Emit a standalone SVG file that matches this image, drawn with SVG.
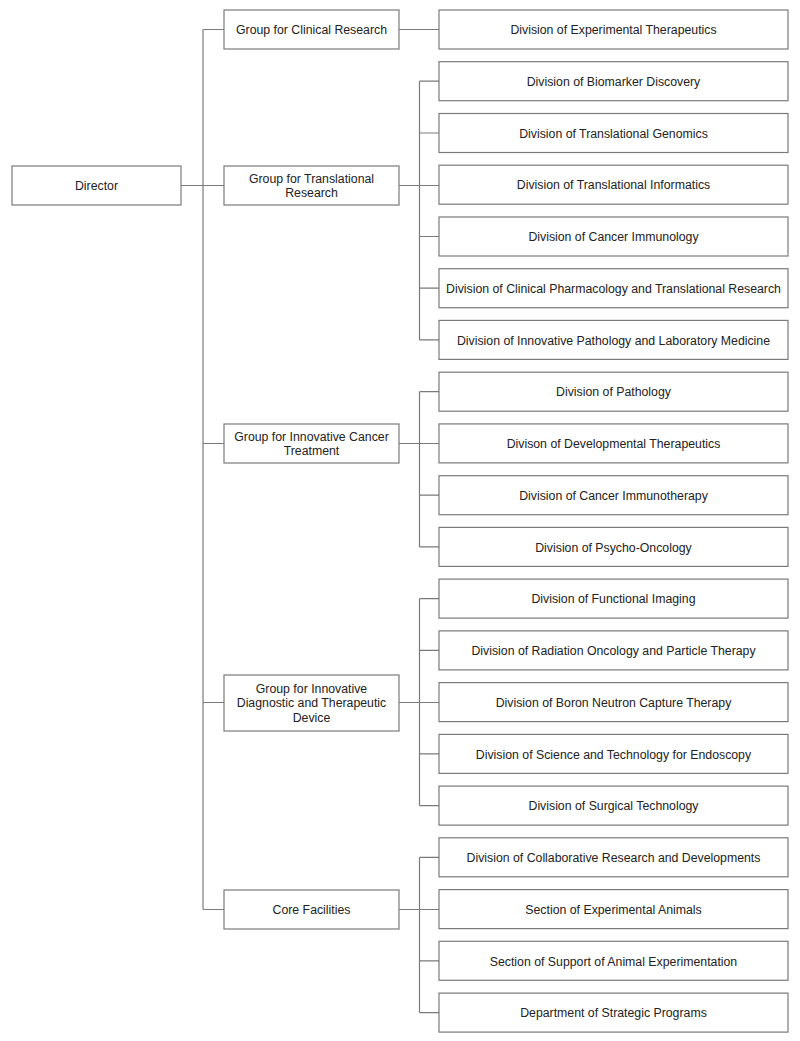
<svg xmlns="http://www.w3.org/2000/svg" width="800" height="1041" viewBox="0 0 800 1041">
<style>
.box{fill:#fff;stroke:#7a7a7a;stroke-width:1.2}
.lbl{font-family:"Liberation Sans",Arial,sans-serif;font-size:12.3px;fill:#222;text-anchor:middle;dominant-baseline:central;transform:translateY(0.8px)}
.con{fill:none;stroke:#7a7a7a;stroke-width:1.2}
</style>
<rect width="800" height="1041" fill="#fff"/>
<g id="connectors" class="con">
<path d="M181 185.5H224M203 29.5V909.5M203 29.5H224M203 443.5H224M203 702.5H224M203 909.5H224"/>
<path d="M399 29.5H439"/>
<path d="M399 185.5H439M419.5 81.2V339.9M419.5 81.2H439M419.5 133H439M419.5 236.5H439M419.5 288.2H439M419.5 339.9H439"/>
<path d="M399 443.5H439M419.5 391.7V546.9M419.5 391.7H439M419.5 495.2H439M419.5 546.9H439"/>
<path d="M399 702.5H439M419.5 598.6V805.6M419.5 598.6H439M419.5 650.4H439M419.5 753.9H439M419.5 805.6H439"/>
<path d="M399 909.5H439M419.5 857.3V1012.6M419.5 857.3H439M419.5 960.8H439M419.5 1012.6H439"/>
</g>
<g id="director"><rect class="box" x="12" y="166" width="169" height="39"/><text class="lbl" x="96.5" y="185.5">Director</text></g>
<g id="g-clinical"><rect class="box" x="224" y="10" width="175" height="39"/><text class="lbl" x="311.5" y="29.5">Group for Clinical Research</text></g>
<g id="g-translational"><rect class="box" x="224" y="166" width="175" height="39"/><text class="lbl" x="311.5" y="178">Group for Translational</text><text class="lbl" x="311.5" y="192.5">Research</text></g>
<g id="g-cancer"><rect class="box" x="224" y="424" width="175" height="39"/><text class="lbl" x="311.5" y="436">Group for Innovative Cancer</text><text class="lbl" x="311.5" y="450.5">Treatment</text></g>
<g id="g-device"><rect class="box" x="224" y="675" width="175" height="56"/><text class="lbl" x="311.5" y="688">Group for Innovative</text><text class="lbl" x="311.5" y="702.5">Diagnostic and Therapeutic</text><text class="lbl" x="311.5" y="717">Device</text></g>
<g id="g-core"><rect class="box" x="224" y="890" width="175" height="39"/><text class="lbl" x="311.5" y="909.5">Core Facilities</text></g>
<g id="d0"><rect class="box" x="439" y="10" width="349" height="39"/><text class="lbl" x="613.5" y="29.5">Division of Experimental Therapeutics</text></g>
<g id="d1"><rect class="box" x="439" y="61.7" width="349" height="39"/><text class="lbl" x="613.5" y="81.2">Division of Biomarker Discovery</text></g>
<g id="d2"><rect class="box" x="439" y="113.5" width="349" height="39"/><text class="lbl" x="613.5" y="133">Division of Translational Genomics</text></g>
<g id="d3"><rect class="box" x="439" y="165.2" width="349" height="39"/><text class="lbl" x="613.5" y="184.7">Division of Translational Informatics</text></g>
<g id="d4"><rect class="box" x="439" y="217" width="349" height="39"/><text class="lbl" x="613.5" y="236.5">Division of Cancer Immunology</text></g>
<g id="d5"><rect class="box" x="439" y="268.7" width="349" height="39"/><text class="lbl" x="613.5" y="288.2">Division of Clinical Pharmacology and Translational Research</text></g>
<g id="d6"><rect class="box" x="439" y="320.4" width="349" height="39"/><text class="lbl" x="613.5" y="339.9">Division of Innovative Pathology and Laboratory Medicine</text></g>
<g id="d7"><rect class="box" x="439" y="372.2" width="349" height="39"/><text class="lbl" x="613.5" y="391.7">Division of Pathology</text></g>
<g id="d8"><rect class="box" x="439" y="423.9" width="349" height="39"/><text class="lbl" x="613.5" y="443.4">Divison of Developmental Therapeutics</text></g>
<g id="d9"><rect class="box" x="439" y="475.7" width="349" height="39"/><text class="lbl" x="613.5" y="495.2">Division of Cancer Immunotherapy</text></g>
<g id="d10"><rect class="box" x="439" y="527.4" width="349" height="39"/><text class="lbl" x="613.5" y="546.9">Division of Psycho-Oncology</text></g>
<g id="d11"><rect class="box" x="439" y="579.1" width="349" height="39"/><text class="lbl" x="613.5" y="598.6">Division of Functional Imaging</text></g>
<g id="d12"><rect class="box" x="439" y="630.9" width="349" height="39"/><text class="lbl" x="613.5" y="650.4">Division of Radiation Oncology and Particle Therapy</text></g>
<g id="d13"><rect class="box" x="439" y="682.6" width="349" height="39"/><text class="lbl" x="613.5" y="702.1">Division of Boron Neutron Capture Therapy</text></g>
<g id="d14"><rect class="box" x="439" y="734.4" width="349" height="39"/><text class="lbl" x="613.5" y="753.9">Division of Science and Technology for Endoscopy</text></g>
<g id="d15"><rect class="box" x="439" y="786.1" width="349" height="39"/><text class="lbl" x="613.5" y="805.6">Division of Surgical Technology</text></g>
<g id="d16"><rect class="box" x="439" y="837.8" width="349" height="39"/><text class="lbl" x="613.5" y="857.3">Division of Collaborative Research and Developments</text></g>
<g id="d17"><rect class="box" x="439" y="889.6" width="349" height="39"/><text class="lbl" x="613.5" y="909.1">Section of Experimental Animals</text></g>
<g id="d18"><rect class="box" x="439" y="941.3" width="349" height="39"/><text class="lbl" x="613.5" y="960.8">Section of Support of Animal Experimentation</text></g>
<g id="d19"><rect class="box" x="439" y="993.1" width="349" height="39"/><text class="lbl" x="613.5" y="1012.6">Department of Strategic Programs</text></g>
</svg>
